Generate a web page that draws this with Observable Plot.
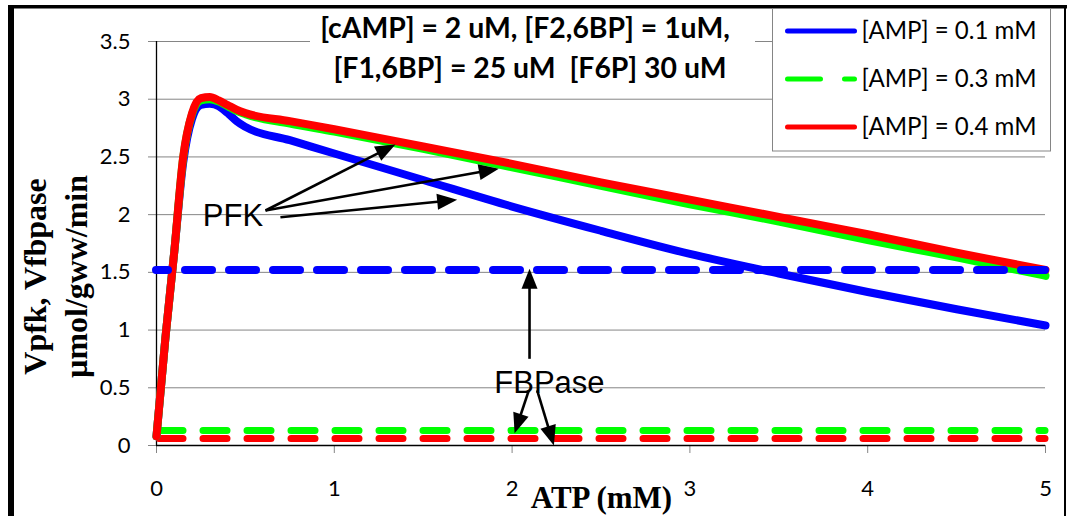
<!DOCTYPE html>
<html><head><meta charset="utf-8">
<script src="https://cdn.jsdelivr.net/npm/d3@7"></script>
<script src="https://cdn.jsdelivr.net/npm/@observablehq/plot@0.6"></script>
<style>
html,body{margin:0;padding:0;background:#fff;}
#wrap{position:relative;width:1067px;height:516px;overflow:hidden;background:#fff;}
#wrap svg{position:absolute;left:0;top:0;}
</style></head><body><div id="wrap"></div>
<script>
// ---------- data ----------
const atp      = [0, 0.05, 0.1, 0.15, 0.2, 0.25, 0.3, 0.35, 0.4, 0.45, 0.5, 0.75, 1, 1.5, 2, 2.5, 3, 3.5, 4, 4.5, 5];
const pfkAmp01 = [0.08, 0.93, 1.68, 2.45, 2.83, 2.95, 2.96, 2.94, 2.88, 2.81, 2.76, 2.645, 2.53, 2.30, 2.07, 1.86, 1.66, 1.49, 1.33, 1.18, 1.04];
const pfkAmp03 = [0.08, 0.93, 1.68, 2.49, 2.87, 2.99, 3.0, 2.98, 2.94, 2.9, 2.87, 2.79, 2.72, 2.57, 2.41, 2.25, 2.09, 1.94, 1.78, 1.63, 1.47];
const pfkAmp04 = [0.08, 0.93, 1.68, 2.5, 2.88, 3.01, 3.02, 2.99, 2.95, 2.91, 2.88, 2.81, 2.74, 2.59, 2.44, 2.28, 2.13, 1.98, 1.83, 1.67, 1.52];
const fbpaseLevels = [1.52, 0.13, 0.06];          // AMP 0.1, 0.3, 0.4
const seriesNames  = ["[AMP] = 0.1 mM", "[AMP] = 0.3 mM", "[AMP] = 0.4 mM"];
const seriesColors = ["#0000ff", "#00ff00", "#ff0000"];
const xTicks = [0, 1, 2, 3, 4, 5];
const yTicks = [0, 0.5, 1, 1.5, 2, 2.5, 3, 3.5];
const pfkArrows = [
  {x1: 0.613, y1: 2.036, x2: 1.344, y2: 2.608},
  {x1: 0.613, y1: 2.036, x2: 1.925, y2: 2.398},
  {x1: 0.697, y1: 1.978, x2: 1.691, y2: 2.129}
];
const fbpArrows = [
  {x1: 2.098, y1: 0.751, x2: 2.098, y2: 1.531},
  {x1: 2.094, y1: 0.477, x2: 2.014, y2: 0.107},
  {x1: 2.141, y1: 0.477, x2: 2.235, y2: 0.0}
];
const annotations = [
  {text: "PFK",    x: 0.43, y: 1.99},
  {text: "FBPase", x: 2.21, y: 0.542}
];
const titleLines  = ["[cAMP] = 2 uM, [F2,6BP] = 1uM,", "[F1,6BP] = 25 uM  [F6P] 30 uM"];
const xLabel      = "ATP (mM)";
const yLabelLines = ["Vpfk, Vfbpase", "\u00b5mol/gww/min"];

// ---------- helpers ----------
const cv = document.createElement("canvas").getContext("2d");
function fit(text, family, weight, width) {
  cv.font = `${weight} 100px ${family}`;
  return 100 * width / cv.measureText(text).width;
}
const rows = ys => atp.map((x, i) => ({x, y: ys[i]}));
const headSymbol = {draw(ctx) { ctx.moveTo(0, 0); ctx.lineTo(-8, 20); ctx.lineTo(8, 20); ctx.closePath(); }};

function build(arrowRows) {
  const dashCommon = {strokeLinecap: "round"};
  return Plot.plot({
    width: 1067, height: 516,
    marginLeft: 156, marginRight: 22, marginTop: 41, marginBottom: 71,
    style: {fontFamily: "Lato, sans-serif", fontSize: "22px", color: "#000", background: "transparent", overflow: "visible"},
    x: {domain: [0, 5]},
    y: {domain: [0, 3.5]},
    marks: [
      Plot.gridY(yTicks, {stroke: "#858585", strokeOpacity: 1}),
      Plot.axisY(yTicks, {tickSize: 8, tickPadding: 18, stroke: "#858585", fill: "#000", label: null, tickFormat: d => String(d)}),
      Plot.axisX(xTicks, {tickSize: 8, tickPadding: 27, stroke: "#858585", fill: "#000", label: null, tickFormat: d => String(d)}),
      Plot.ruleY([0], {stroke: "#000", strokeWidth: 1.5}),
      Plot.ruleX([0], {stroke: "#000", strokeWidth: 1.3}),
      // FBPase (AMP 0.3 / 0.4) dashed
      Plot.ruleY([fbpaseLevels[1]], {x1: 0, x2: 5, stroke: seriesColors[1], strokeWidth: 7, strokeDasharray: "24,20", strokeDashoffset: 41, ...dashCommon}),
      Plot.ruleY([fbpaseLevels[2]], {x1: 0, x2: 5, stroke: seriesColors[2], strokeWidth: 7, strokeDasharray: "24,20", strokeDashoffset: 41, ...dashCommon}),
      // PFK solid curves
      Plot.line(rows(pfkAmp01), {x: "x", y: "y", stroke: seriesColors[0], strokeWidth: 8, curve: "monotone-x", strokeLinejoin: "round"}),
      Plot.line(rows(pfkAmp03), {x: "x", y: "y", stroke: seriesColors[1], strokeWidth: 8, curve: "monotone-x", strokeLinejoin: "round"}),
      Plot.line(rows(pfkAmp04), {x: "x", y: "y", stroke: seriesColors[2], strokeWidth: 8, curve: "monotone-x", strokeLinejoin: "round"}),
      // FBPase (AMP 0.1) dashed
      Plot.ruleY([fbpaseLevels[0]], {x1: 0, x2: 5, stroke: seriesColors[0], strokeWidth: 8, strokeDasharray: "27,17", strokeDashoffset: 15, ...dashCommon}),
      // arrows
      Plot.link(arrowRows, {x1: "x1", y1: "y1", x2: "xe", y2: "ye", stroke: "#000", strokeWidth: 2.6}),
      Plot.dot(arrowRows, {x: "x2", y: "y2", rotate: "rot", symbol: headSymbol, fill: "#000", stroke: "none"}),
      Plot.text(annotations, {x: "x", y: "y", text: "text", fontFamily: "'Liberation Sans', Arial, sans-serif", fontSize: 31, fill: "#000"})
    ]
  });
}

// first pass: get the scales
const allArrows = pfkArrows.concat(fbpArrows);
const p0 = build(allArrows.map(a => ({...a, xe: a.x2, ye: a.y2, rot: 0})));
const sx = p0.scale("x"), sy = p0.scale("y");
const arrowRows = allArrows.map(a => {
  const X1 = sx.apply(a.x1), Y1 = sy.apply(a.y1), X2 = sx.apply(a.x2), Y2 = sy.apply(a.y2);
  const len = Math.hypot(X2 - X1, Y2 - Y1), k = (len - 12) / len;
  return {...a, rot: Math.atan2(X2 - X1, -(Y2 - Y1)) * 180 / Math.PI,
          xe: sx.invert(X1 + (X2 - X1) * k), ye: sy.invert(Y1 + (Y2 - Y1) * k)};
});
const chart = build(arrowRows);
const wrap = document.getElementById("wrap");
wrap.appendChild(chart);

// ---------- overlay: frame, title, legend, axis labels ----------
const NS = "http://www.w3.org/2000/svg";
const ov = d3.select(wrap).append("svg").attr("width", 1067).attr("height", 516).attr("xmlns", NS);

// outer frame
ov.append("line").attr("x1", 11).attr("x2", 11).attr("y1", 5).attr("y2", 520).attr("stroke", "#000").attr("stroke-width", 6);
ov.append("line").attr("x1", 8).attr("x2", 1067).attr("y1", 6.8).attr("y2", 6.8).attr("stroke", "#000").attr("stroke-width", 3.6);
ov.append("line").attr("x1", 1065).attr("x2", 1065).attr("y1", 5).attr("y2", 520).attr("stroke", "#000").attr("stroke-width", 2);

// title
ov.append("rect").attr("x", 310).attr("y", 12).attr("width", 445).attr("height", 80).attr("fill", "#fff");
const titleFamily = "Lato, sans-serif";
const tSize = fit(titleLines[0], titleFamily, "bold", 410);
ov.append("text").attr("x", 525).attr("y", 38).attr("text-anchor", "middle")
  .attr("font-family", titleFamily).attr("font-weight", "bold").attr("font-size", tSize)
  .style("white-space", "pre").text(titleLines[0]);
ov.append("text").attr("x", 530).attr("y", 78).attr("text-anchor", "middle")
  .attr("font-family", titleFamily).attr("font-weight", "bold").attr("font-size", tSize)
  .style("white-space", "pre").text(titleLines[1]);

// legend
const lg = ov.append("g").attr("transform", "translate(772.5,8.5)");
lg.append("rect").attr("width", 278).attr("height", 142.5).attr("fill", "#fff").attr("stroke", "#858585").attr("stroke-width", 1);
const lSize = fit(seriesNames[0], "Lato, sans-serif", "normal", 175);
seriesNames.forEach((name, i) => {
  const cy = 22.5 + i * 48;
  const ln = lg.append("line").attr("x1", 15).attr("x2", 82).attr("y1", cy).attr("y2", cy)
    .attr("stroke", seriesColors[i]).attr("stroke-width", 5).attr("stroke-linecap", "round");
  if (i === 1) ln.attr("stroke-dasharray", "33,24");
  lg.append("text").attr("x", 89).attr("y", cy + 7.5).attr("font-family", "Lato, sans-serif")
    .attr("font-size", lSize).attr("fill", "#000").text(name);
});

// axis labels
const serif = "'Liberation Serif', 'Times New Roman', serif";
const xs = fit(xLabel, serif, "bold", 143);
ov.append("text").attr("x", 601.5).attr("y", 508).attr("text-anchor", "middle")
  .attr("font-family", serif).attr("font-weight", "bold").attr("font-size", xs).text(xLabel);
const ys = fit(yLabelLines[0], serif, "bold", 197);
[46, 87].forEach((bx, i) => {
  ov.append("text").attr("transform", `translate(${bx},276.5) rotate(-90)`).attr("text-anchor", "middle")
    .attr("font-family", serif).attr("font-weight", "bold").attr("font-size", ys).text(yLabelLines[i]);
});
</script></body></html>
